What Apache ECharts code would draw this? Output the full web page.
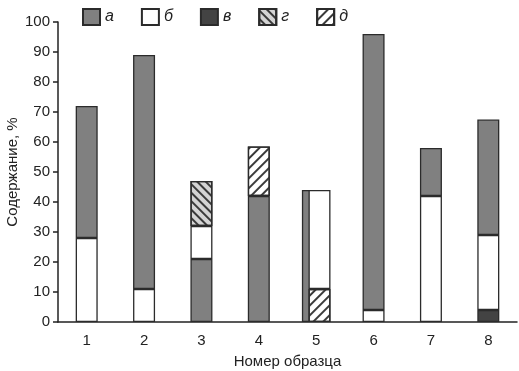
<!DOCTYPE html>
<html>
<head>
<meta charset="utf-8">
<script src="https://cdn.jsdelivr.net/npm/echarts@6/dist/echarts.min.js"></script>
<style>
  html, body { margin: 0; padding: 0; background: #fff; }
  #chart { width: 519px; height: 371px; }
</style>
</head>
<body>
<div id="chart"></div>
<script>
// Sample numbers on the x axis
const categories = ['1', '2', '3', '4', '5', '6', '7', '8'];

// Content, % (stack order differs per sample, so "а" is split)
const aBottom = [null, null, 21, 42, null, null, null, null];
const aTop    = [44, 78, null, null, null, 92, 16, 38.5];
const aBehind = [null, null, null, null, 44, null, null, null]; // sample 5, drawn behind
const bVals   = [28, 11, 11, null, 33, 4, 42, 25];
const vVals   = [null, null, null, null, null, null, null, 4];
const gVals   = [null, null, 15, null, null, null, null, null];
const dVals   = [null, null, null, 16.5, 11, null, null, null];

const yTicks = { min: 0, max: 100, interval: 10 };

// sample 5 sits on a second hidden axis so its two stacks can overlap
const SPLIT = 4;
const mainOnly = arr => arr.map((v, i) => (i === SPLIT ? null : v));
const splitOnly = arr => arr.map((v, i) => (i === SPLIT ? v : null));

const border = { borderColor: '#2b2b2b', borderWidth: 1.3 };
const styles = {
    'а': Object.assign({ color: '#808080' }, border),
    'б': Object.assign({ color: '#ffffff' }, border),
    'в': Object.assign({ color: '#434343' }, border),
    'г': Object.assign({
        color: '#d4d4d4',
        decal: { symbol: 'rect', color: '#3a3a3a', dashArrayX: [1, 0], dashArrayY: [1.3, 3.2], rotation: Math.PI / 4 }
    }, border),
    'д': Object.assign({
        color: '#ffffff',
        decal: { symbol: 'rect', color: '#3a3a3a', dashArrayX: [1, 0], dashArrayY: [1.3, 4.5], rotation: -Math.PI / 4 }
    }, border)
};

function bar(name, data, stack, axis, extra) {
    return Object.assign({
        name: name,
        type: 'bar',
        stack: stack,
        xAxisIndex: axis,
        barWidth: 22,
        data: data,
        itemStyle: styles[name]
    }, extra || {});
}

const chart = echarts.init(document.getElementById('chart'), null, { renderer: 'canvas' });

const axisText = { fontFamily: 'Liberation Sans, Arial, sans-serif', fontSize: 15, color: '#222' };

chart.setOption({
    animation: false,
    textStyle: { fontFamily: 'Liberation Sans, Arial, sans-serif' },
    legend: {
        data: ['а', 'б', 'в', 'г', 'д'],
        icon: 'rect',
        left: 77,
        top: 3,
        itemWidth: 17,
        itemHeight: 16,
        itemGap: 27,
        textStyle: { fontSize: 16, fontStyle: 'italic', color: '#222' }
    },
    grid: { left: 58, right: 2, top: 22, bottom: 49, outerBoundsMode: 'none', containLabel: false },
    xAxis: [
        {
            type: 'category',
            data: categories,
            axisLine: { lineStyle: { color: '#222', width: 1.5 } },
            axisTick: { length: 5, lineStyle: { color: '#222', width: 1.5 } },
            axisLabel: Object.assign({ margin: 11 }, axisText),
            name: 'Номер образца',
            nameLocation: 'middle',
            nameGap: 32,
            nameMoveOverlap: false,
            nameTextStyle: axisText
        },
        { type: 'category', data: categories, show: false }
    ],
    yAxis: {
        type: 'value',
        min: yTicks.min,
        max: yTicks.max,
        interval: yTicks.interval,
        axisLine: { show: true, lineStyle: { color: '#222', width: 1.5 } },
        axisTick: { show: true, length: 5, lineStyle: { color: '#222', width: 1.5 } },
        splitLine: { show: false },
        axisLabel: Object.assign({ margin: 8 }, axisText),
        name: 'Содержание, %',
        nameLocation: 'middle',
        nameGap: 38,
        nameMoveOverlap: false,
        nameTextStyle: axisText
    },
    series: [
        bar('а', aBottom, 'main', 0),
        bar('в', vVals, 'main', 0),
        bar('б', mainOnly(bVals), 'main', 0),
        bar('а', aTop, 'main', 0),
        bar('г', gVals, 'main', 0),
        bar('д', mainOnly(dVals), 'main', 0),
        // sample 5: gray bar behind, hatched + white stack in front, shifted right
        bar('а', aBehind, 'back', 1, { barGap: '-70%' }),
        bar('д', splitOnly(dVals), 'front', 1, { barGap: '-70%' }),
        bar('б', splitOnly(bVals), 'front', 1, { barGap: '-70%' })
    ]
});
</script>
</body>
</html>
